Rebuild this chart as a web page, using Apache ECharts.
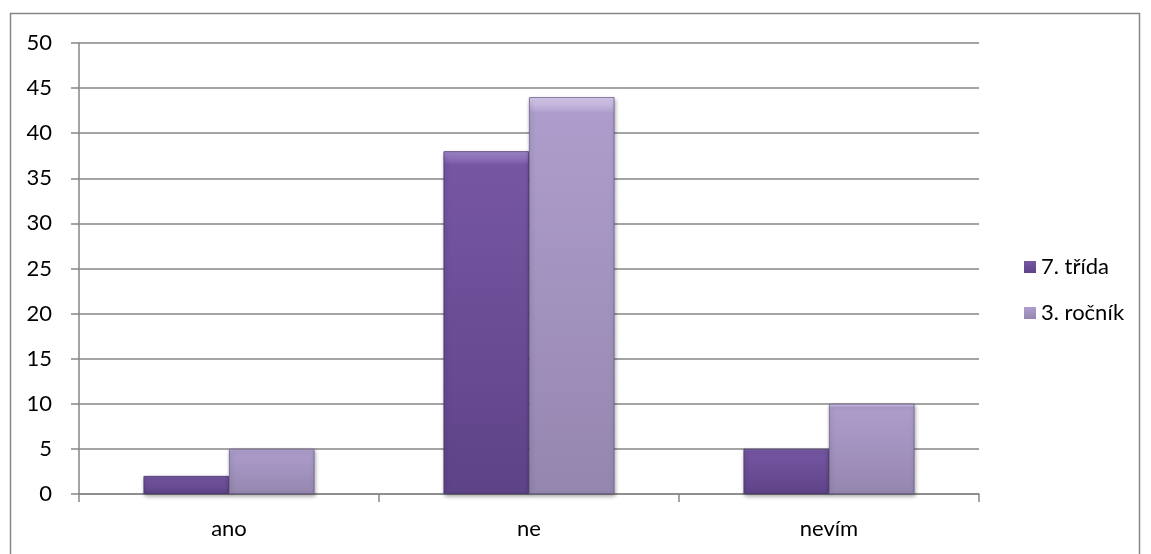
<!DOCTYPE html>
<html>
<head>
<meta charset="utf-8">
<script src="https://cdn.jsdelivr.net/npm/echarts@6/dist/echarts.min.js"></script>
<style>
html,body{margin:0;padding:0;background:#fff;}
#chart{width:1151px;height:554px;}
</style>
</head>
<body>
<div id="chart"></div>
<script>
var categories = ['ano', 'ne', 'nevím'];
var seriesNames = ['7. třída', '3. ročník'];
var trida7 = [2, 38, 5];
var rocnik3 = [5, 44, 10];
var yTicks = [0, 5, 10, 15, 20, 25, 30, 35, 40, 45, 50];

var chart = echarts.init(document.getElementById('chart'));
function grad(top, mid, bottom) {
  return new echarts.graphic.LinearGradient(0, 0, 0, 1, [
    {offset: 0, color: top}, {offset: 0.04, color: mid}, {offset: 1, color: bottom}
  ]);
}
var fontFam = 'Lato';
var fs = 22;
chart.setOption({
  animation: false,
  graphic: [{
    type: 'rect', silent: true,
    shape: {x: 10.5, y: 13.5, width: 1129, height: 560},
    style: {fill: 'none', stroke: '#868686', lineWidth: 1.5}
  }],
  grid: {left: 79, right: 172, top: 43, bottom: 60},
  legend: {
    orient: 'vertical', left: 1019, top: 251,
    itemWidth: 12, itemHeight: 12, itemGap: 24, itemStyle: {borderWidth: 0}, icon: 'rect',
    textStyle: {fontFamily: fontFam, fontSize: fs, color: '#000'},
    data: seriesNames
  },
  xAxis: {
    type: 'category', data: categories,
    axisLine: {lineStyle: {color: '#868686', width: 1.5}},
    axisTick: {show: true, length: 8, lineStyle: {color: '#868686', width: 1.5}},
    axisLabel: {fontFamily: fontFam, fontSize: fs, color: '#000', margin: 24}
  },
  yAxis: {
    type: 'value', min: 0, max: 50, interval: 5,
    axisLine: {show: true, lineStyle: {color: '#868686', width: 1.5}},
    axisTick: {show: true, length: 8, lineStyle: {color: '#868686', width: 1.5}},
    splitLine: {lineStyle: {color: '#868686', width: 1.5}},
    axisLabel: {fontFamily: fontFam, fontSize: fs, color: '#000', margin: 27,
      formatter: function (v) { return yTicks.indexOf(v) >= 0 ? String(v) : ''; }}
  },
  series: [{
    name: seriesNames[0], type: 'bar', data: trida7,
    barGap: '0%', barCategoryGap: '43%',
    itemStyle: {color: grad('#a58bd0', '#7656a3', '#5e4388'), borderColor: '#4a356e', borderWidth: 0.8,
      shadowColor: 'rgba(0,0,0,0.35)', shadowBlur: 4, shadowOffsetX: 1, shadowOffsetY: 2}
  }, {
    name: seriesNames[1], type: 'bar', data: rocnik3,
    barGap: '0%', barCategoryGap: '43%',
    itemStyle: {color: grad('#dccff0', '#ae9dcc', '#9586af'), borderColor: '#6f6290', borderWidth: 0.8,
      shadowColor: 'rgba(0,0,0,0.35)', shadowBlur: 4, shadowOffsetX: 1, shadowOffsetY: 2}
  }]
});
</script>
</body>
</html>
